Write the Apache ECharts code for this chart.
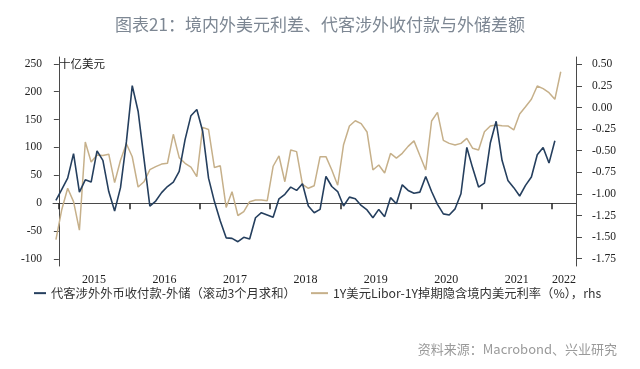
<!DOCTYPE html>
<html>
<head>
<meta charset="utf-8">
<script src="https://cdn.jsdelivr.net/npm/echarts@6/dist/echarts.min.js"></script>
<style>
html,body{margin:0;padding:0;background:#fff;}
#chart{width:640px;height:369px;}
</style>
</head>
<body>
<div id="chart"></div>
<script>
// ---- data ----
const months = [
  '2014-12',
  '2015-01','2015-02','2015-03','2015-04','2015-05','2015-06','2015-07','2015-08','2015-09','2015-10','2015-11','2015-12',
  '2016-01','2016-02','2016-03','2016-04','2016-05','2016-06','2016-07','2016-08','2016-09','2016-10','2016-11','2016-12',
  '2017-01','2017-02','2017-03','2017-04','2017-05','2017-06','2017-07','2017-08','2017-09','2017-10','2017-11','2017-12',
  '2018-01','2018-02','2018-03','2018-04','2018-05','2018-06','2018-07','2018-08','2018-09','2018-10','2018-11','2018-12',
  '2019-01','2019-02','2019-03','2019-04','2019-05','2019-06','2019-07','2019-08','2019-09','2019-10','2019-11','2019-12',
  '2020-01','2020-02','2020-03','2020-04','2020-05','2020-06','2020-07','2020-08','2020-09','2020-10','2020-11','2020-12',
  '2021-01','2021-02','2021-03','2021-04','2021-05','2021-06','2021-07','2021-08','2021-09','2021-10','2021-11','2021-12',
  '2022-01','2022-02'
];
// 代客涉外外币收付款-外储（滚动3个月求和），十亿美元 (Dec 2014 – Jan 2022)
const flowGap = [
  5,
  25, 45, 89, 20, 42, 38, 94, 77, 21, -14, 28, 110,
  211, 165, 80, -5, 4, 19, 30, 38, 57, 114, 157, 168,
  129, 45, 3, -32, -62, -63, -69, -61, -64, -26, -17, -21,
  -25, 8, 16, 29, 23, 35, -5, -17, -11, 48, 30, 21,
  -5, 11, 8, -4, -12, -26, -11, -24, 10, -1, 33, 23,
  18, 20, 48, 21, -2, -19, -21, -10, 17, 100, 63, 29,
  36, 108, 147, 77, 41, 28, 13, 32, 47, 87, 100, 72,
  112
];
// 1Y美元Libor-1Y掉期隐含境内美元利率（%），rhs (Dec 2014 – Feb 2022)
const rateSpread = [
  -1.53,
  -1.18, -0.935, -1.09, -1.42, -0.40, -0.63, -0.55, -0.555, -0.54, -0.87, -0.61, -0.42,
  -0.57, -0.92, -0.86, -0.72, -0.685, -0.655, -0.645, -0.31, -0.58, -0.646, -0.69, -0.80,
  -0.23, -0.255, -0.695, -0.675, -1.157, -0.975, -1.25, -1.206, -1.09, -1.071, -1.071, -1.079,
  -0.68, -0.561, -0.859, -0.492, -0.511, -0.889, -0.935, -0.905, -0.569, -0.569, -0.723, -0.90,
  -0.43, -0.214, -0.153, -0.187, -0.283, -0.723, -0.666, -0.758, -0.532, -0.585, -0.53, -0.45,
  -0.386, -0.555, -0.723, -0.156, -0.056, -0.38, -0.415, -0.434, -0.415, -0.357, -0.472, -0.492,
  -0.28, -0.214, -0.203, -0.21, -0.214, -0.26, -0.075, 0.009, 0.095, 0.249, 0.218, 0.171,
  0.095, 0.414
];
const yearLabels = ['2015','2016','2017','2018','2019','2020','2021','2022'];
const leftTicks = [-100, -50, 0, 50, 100, 150, 200, 250];
const rightTicks = [-1.75, -1.5, -1.25, -1, -0.75, -0.5, -0.25, 0, 0.25, 0.5];
const seriesNames = ['代客涉外外币收付款-外储（滚动3个月求和）', '1Y美元Libor-1Y掉期隐含境内美元利率（%），rhs'];
const titleText = '图表21：境内外美元利差、代客涉外收付款与外储差额';
const unitText = '十亿美元';
const sourceText = '资料来源：Macrobond、兴业研究';

// ---- helpers: month -> position (months since Jan 2015, mid-month) ----
const baseYear = Number(yearLabels[0]);
function monthPos(m) {
  const [y, mo] = m.split('-').map(Number);
  return (y - baseYear) * 12 + (mo - 1) + 0.5;
}
const flowData = flowGap.map((v, i) => [monthPos(months[i]), v]);
const rateData = rateSpread.map((v, i) => [monthPos(months[i]), v]);
const yearTickPos = yearLabels.map((y, i) => i * 12);
const yearLabelPos = yearLabels.map((y, i) => i < yearLabels.length - 1 ? i * 12 + 6 : i * 12 + 2.05);
function yearFromPos(v) {
  const idx = yearLabelPos.findIndex(p => Math.abs(p - v) < 0.01);
  return idx >= 0 ? yearLabels[idx] : '';
}

const BLUE = '#253f5e';
const TAN = '#c6b08a';
const AXIS = '#4a4a4a';
const NUMFONT = 'Liberation Serif';
const CJK = '"Noto Sans CJK SC", sans-serif';

const chart = echarts.init(document.getElementById('chart'), null, {renderer: 'canvas'});
chart.setOption({
  animation: false,
  backgroundColor: '#ffffff',
  title: {
    text: titleText,
    left: 'center',
    top: 11,
    textStyle: {fontFamily: CJK, fontSize: 17, fontWeight: 'normal', color: '#7d8793'}
  },
  legend: [{
    data: [seriesNames[0]],
    left: 29, top: 282,
    icon: 'rect', itemWidth: 12, itemHeight: 2,
    textStyle: {fontFamily: CJK, fontSize: 12.3, color: '#333'}
  }, {
    data: [seriesNames[1]],
    left: 306, top: 282,
    icon: 'rect', itemWidth: 17, itemHeight: 2,
    textStyle: {fontFamily: CJK, fontSize: 12.3, color: '#333'}
  }],
  grid: {left: 53, right: 64, top: 57, bottom: 103, containLabel: false},
  xAxis: {
    type: 'value',
    min: -1, max: 88.1,
    axisLine: {show: true, lineStyle: {color: AXIS, width: 1}},
    axisTick: {show: true, length: 6, inside: false, customValues: yearTickPos, lineStyle: {color: '#222', width: 1.5}},
    axisLabel: {show: true, customValues: yearLabelPos, formatter: yearFromPos, margin: 8,
      fontFamily: NUMFONT, fontSize: 12, color: '#222'},
    splitLine: {show: false}
  },
  yAxis: [{
    type: 'value',
    position: 'left',
    min: -112.5, max: 262.2,
    axisLine: {show: true, lineStyle: {color: AXIS, width: 1}},
    axisTick: {show: true, length: 5, customValues: leftTicks, lineStyle: {color: AXIS}},
    axisLabel: {customValues: leftTicks, margin: 11, fontFamily: NUMFONT, fontSize: 11.5, color: '#222'},
    splitLine: {show: false}
  }, {
    type: 'value',
    position: 'right',
    min: -1.8345, max: 0.5845,
    axisLine: {show: true, lineStyle: {color: AXIS, width: 1}},
    axisTick: {show: true, length: 6, customValues: rightTicks, lineStyle: {color: AXIS}},
    axisLabel: {customValues: rightTicks, margin: 16, fontFamily: NUMFONT, fontSize: 11.5, color: '#222',
      formatter: v => v.toFixed(2)},
    splitLine: {show: false}
  }],
  graphic: [{
    type: 'text', left: 59, top: 58,
    style: {text: unitText, font: '11.5px "Noto Sans CJK SC"', fill: '#222'}
  }, {
    type: 'text', right: 23, top: 343,
    style: {text: sourceText, font: '13px "Noto Sans CJK SC"', fill: '#9a9a9a'}
  }],
  series: [{
    name: seriesNames[0], type: 'line', yAxisIndex: 0, data: flowData,
    showSymbol: false, symbol: 'none',
    lineStyle: {color: BLUE, width: 1.6}, itemStyle: {color: BLUE}, z: 3
  }, {
    name: seriesNames[1], type: 'line', yAxisIndex: 1, data: rateData,
    showSymbol: false, symbol: 'none',
    lineStyle: {color: TAN, width: 1.5}, itemStyle: {color: TAN}, z: 2
  }]
});
</script>
</body>
</html>
